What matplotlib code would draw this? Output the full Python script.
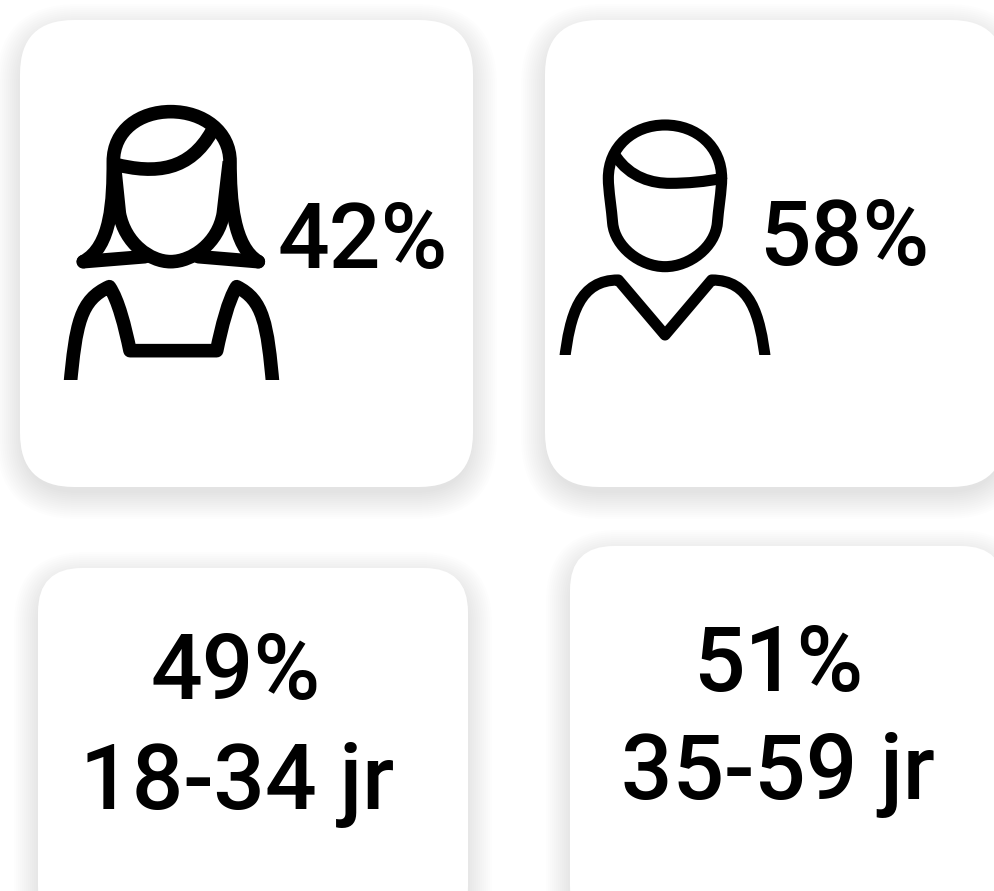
import matplotlib
matplotlib.use("Agg")
import matplotlib.pyplot as plt
from matplotlib.patches import FancyBboxPatch, PathPatch, Rectangle
from matplotlib.path import Path

# values
gender_labels = ['42%', '58%']
age_shares = ['49%', '51%']
age_groups = ['18-34 jr', '35-59 jr']

M, L, C = Path.MOVETO, Path.LINETO, Path.CURVE4

fig = plt.figure(figsize=(9.94, 8.91), dpi=100)
ax = fig.add_axes([0, 0, 1, 1])
ax.set_xlim(0, 994)
ax.set_ylim(891, 0)
ax.axis('off')


def card(x0, y0, x1, y1, r):
    # soft shadow from stacked see-through boxes, then the white card
    for g in range(24, -4, -2):
        ax.add_patch(FancyBboxPatch((x0 - g, y0 + 8 - g), x1 - x0 + 2 * g, y1 - y0 + 2 * g,
                                    boxstyle=f"round,pad=0,rounding_size={r + g + 4}",
                                    fc='black', ec='none', alpha=0.0095, zorder=1))
    ax.add_patch(FancyBboxPatch((x0, y0), x1 - x0, y1 - y0,
                                boxstyle=f"round,pad=0,rounding_size={r}",
                                fc='white', ec='none', zorder=2))


def stroke(segs, ox, oy, lw, cap='butt', clip_y=None):
    # segs are zoom coordinates (3x), moved back to picture pixels
    verts, codes = [], []
    for kind, pts in segs:
        for p in pts:
            verts.append((ox + p[0] / 3, oy + p[1] / 3))
            codes.append(kind)
    patch = PathPatch(Path(verts, codes), fc='none', ec='black', lw=lw,
                      capstyle=cap, joinstyle='round', zorder=3)
    ax.add_patch(patch)
    if clip_y is not None:
        # shoulders end in a flat cut
        patch.set_clip_path(Rectangle((0, 0), 994, clip_y, transform=ax.transData))


card(20, 20, 473, 487, 54)
card(545, 20, 1005, 487, 54)
card(38, 568, 468, 930, 44)
card(570, 546, 1005, 930, 44)

# woman
wx, wy, wlw = 40, 90, 9.8
stroke([(M, [(130, 515)]), (C, [(215, 470), (220, 330), (220, 215)]),
        (C, [(220, 120), (300, 65), (392, 65)]), (C, [(490, 65), (570, 125), (570, 215)]),
        (C, [(570, 330), (580, 470), (655, 515)])], wx, wy, wlw, 'round')
stroke([(M, [(130, 515)]), (L, [(315, 500)])], wx, wy, wlw, 'round')
stroke([(M, [(655, 515)]), (L, [(475, 500)])], wx, wy, wlw, 'round')
stroke([(M, [(222, 215)]), (L, [(238, 370)]), (C, [(255, 460), (330, 515), (392, 515)]),
        (C, [(455, 515), (535, 460), (550, 370)]), (L, [(568, 215)])], wx, wy, wlw)
stroke([(M, [(222, 222)]), (C, [(350, 255), (450, 240), (515, 125)])], wx, wy, wlw)
stroke([(M, [(90, 890)]), (C, [(108, 700), (120, 630), (208, 590)]),
        (C, [(235, 630), (255, 710), (270, 782)]), (L, [(530, 782)]),
        (C, [(545, 710), (565, 630), (590, 590)]),
        (C, [(670, 630), (682, 700), (699, 890)])], wx, wy, wlw, clip_y=380)

# man, outline starts under the fringe so the seam does not show
mx, my, mlw = 540, 100, 8.0
stroke([(M, [(545, 235)]), (C, [(545, 270), (535, 330), (532, 370)]),
        (C, [(525, 440), (450, 500), (375, 500)]), (C, [(300, 500), (225, 440), (218, 370)]),
        (C, [(215, 330), (205, 270), (205, 235)]),
        (C, [(205, 140), (280, 75), (375, 75)]),
        (C, [(470, 75), (545, 140), (545, 235)])], mx, my, mlw, 'round')
stroke([(M, [(225, 165)]), (C, [(270, 235), (340, 250), (390, 250)]),
        (C, [(440, 250), (500, 245), (545, 235)])], mx, my, mlw)
stroke([(M, [(73, 785)]), (C, [(90, 640), (120, 540), (235, 540)]), (L, [(375, 705)]),
        (L, [(515, 540)]), (C, [(630, 540), (660, 640), (677, 785)])], mx, my, mlw, clip_y=355)

text_kw = dict(family='Roboto', weight='medium', color='black', fontsize=65.5, zorder=4)
ax.text(363, 268, gender_labels[0], ha='center', va='baseline', **text_kw)
ax.text(844, 265, gender_labels[1], ha='center', va='baseline', **text_kw)
ax.text(236, 699, age_shares[0], ha='center', va='baseline', **text_kw)
ax.text(237, 809, age_groups[0], ha='center', va='baseline', **text_kw)
ax.text(778, 691, age_shares[1], ha='center', va='baseline', **text_kw)
ax.text(778, 799, age_groups[1], ha='center', va='baseline', **text_kw)

fig.savefig('out.png', dpi=100)
